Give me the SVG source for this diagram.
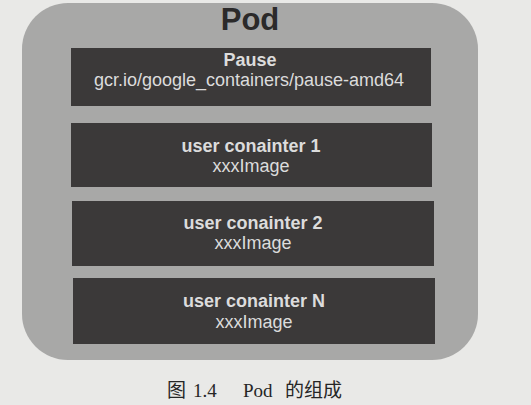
<svg xmlns="http://www.w3.org/2000/svg" width="531" height="405" viewBox="0 0 531 405">
<style>
.box{fill:#3b3939;}
.t{font-family:"Liberation Sans",Arial,sans-serif;font-size:18px;fill:#dcdcdc;text-anchor:middle;}
.b{font-weight:bold;}
.cap{font-family:"Liberation Serif","Noto Sans CJK SC",serif;font-size:19px;fill:#262626;}
</style>
<rect x="0" y="0" width="531" height="405" fill="#e9e9e7"/>
<g id="pod">
<rect x="22" y="3" width="456" height="357" rx="46" ry="46" fill="#a8a8a7"/>
<text x="250" y="30" font-family="Liberation Sans,Arial,sans-serif" font-size="31" font-weight="bold" fill="#2b2a2a" text-anchor="middle">Pod</text>
</g>
<g id="pause">
<rect class="box" x="71" y="48" width="360" height="58"/>
<text class="t b" x="250" y="66">Pause</text>
<text class="t" x="249" y="86">gcr.io/google_containers/pause-amd64</text>
</g>
<g id="container1">
<rect class="box" x="71" y="123" width="361" height="64"/>
<text class="t b" x="251" y="152">user conainter 1</text>
<text class="t" x="251" y="172">xxxImage</text>
</g>
<g id="container2">
<rect class="box" x="72" y="201" width="362" height="65"/>
<text class="t b" x="253" y="229">user conainter 2</text>
<text class="t" x="253" y="249">xxxImage</text>
</g>
<g id="containerN">
<rect class="box" x="73" y="278" width="362" height="66"/>
<text class="t b" x="254" y="307">user conainter N</text>
<text class="t" x="254" y="328">xxxImage</text>
</g>
<g id="connectors"></g>
<text class="cap" y="397"><tspan x="167">图</tspan><tspan x="193">1.4</tspan><tspan x="243">Pod</tspan><tspan x="285">的组成</tspan></text>
</svg>
